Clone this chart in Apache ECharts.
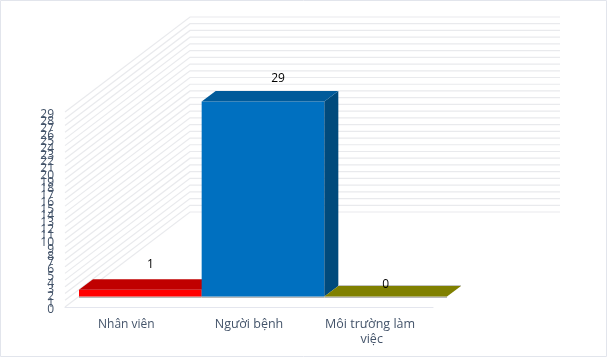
<!DOCTYPE html>
<html>
<head>
<meta charset="utf-8">
<style>html,body{margin:0;padding:0;background:#fff}#chart{width:607px;height:357px}</style>
<script src="https://cdn.jsdelivr.net/npm/echarts@6/dist/echarts.min.js"></script>
</head>
<body>
<div id="chart"></div>
<script>
const categories = ['Nhân viên', 'Người bệnh', 'Môi trường làm việc'];
const values = [1, 29, 0];
const yTicks = [0, 1, 2, 3, 4, 5, 6, 7, 8, 9, 10, 11, 12, 13, 14, 15, 16, 17, 18, 19, 20, 21, 22, 23, 24, 25, 26, 27, 28, 29];

const faces = [
  { front: '#ff0000', top: '#c00000', side: '#a00000' },
  { front: '#0070c0', top: '#005a9a', side: '#004a7c' },
  { front: '#808000', top: '#808000', side: '#666600' }
];
const labelShift = [[10, -25], [15, -23], [0, -12]];
const categoryFontSize = [12, 12.5, 12.5];
const textFont = '"Open Sans", sans-serif';

// depth of the floor, and of one bar
const wallDx = 125, wallDy = -95;
const barDx = 14, barDy = -10.5;

function poly(points, fill) {
  return { type: 'polygon', shape: { points: points }, style: { fill: fill } };
}

// wall line plus its tick label: the axis's own labels drop 1 and 28 as overlapping
function renderWall(params, api) {
  const box = params.coordSys;
  const tick = api.value(1);
  const y = api.coord([0, tick])[1];
  const x0 = box.x, x1 = box.x + wallDx, x2 = box.x + box.width + wallDx + 2;
  return {
    type: 'group',
    children: [{
      type: 'polyline',
      shape: { points: [[x0, y], [x1, y + wallDy], [x2, y + wallDy]] },
      style: { stroke: '#e9eaed', lineWidth: 1.2, fill: null }
    }, {
      type: 'text',
      style: {
        x: x0 - 11,
        y: y + 3,
        text: String(tick),
        fill: '#44546a',
        font: '12px ' + textFont,
        align: 'right',
        verticalAlign: 'middle'
      }
    }]
  };
}

function renderBar(params, api) {
  const i = api.value(0);
  const v = api.value(1);
  const band = api.size([1, 0])[0];
  const c = api.coord([i, v]);
  const base = api.coord([i, 0])[1] + barDy;
  const top = c[1] + barDy;
  const l = c[0] - band / 2 + barDx;
  const r = l + band;
  const f = faces[i];
  const kids = [];
  kids.push({ type: 'rect', shape: { x: l, y: base, width: band, height: 1.5 }, style: { fill: '#b8b8b8' } });
  if (v > 0) {
    kids.push({ type: 'rect', shape: { x: l, y: top, width: band, height: base - top }, style: { fill: f.front } });
    kids.push(poly([[r, top], [r + barDx, top + barDy], [r + barDx, base + barDy], [r, base]], f.side));
  } else {
    kids.push({ type: 'rect', shape: { x: l + barDx, y: top + barDy - 1, width: band, height: 1 }, style: { fill: '#c4c4c4' } });
  }
  kids.push(poly([[l, top], [l + barDx, top + barDy], [r + barDx, top + barDy], [r, top]], f.top));
  kids.push({
    type: 'text',
    style: {
      x: (l + r) / 2 + labelShift[i][0],
      y: top + labelShift[i][1],
      text: String(v),
      fill: '#000',
      font: '12px ' + textFont,
      align: 'center',
      verticalAlign: 'middle'
    }
  });
  return { type: 'group', children: kids };
}

const chart = echarts.init(document.getElementById('chart'), null, { renderer: 'canvas' });
chart.setOption({
  animation: false,
  backgroundColor: '#fff',
  graphic: [{
    type: 'rect',
    silent: true,
    shape: { x: 0.5, y: 0.5, width: 606, height: 356 },
    style: { fill: 'none', stroke: '#e2e5ec', lineWidth: 1 }
  }],
  grid: { left: 65, top: 112, width: 368, height: 195 },
  xAxis: {
    type: 'category',
    data: categories.map((name, i) => ({ value: name, textStyle: { fontSize: categoryFontSize[i] } })),
    axisTick: { show: false },
    axisLine: { lineStyle: { color: '#e4e6ee', width: 1.2 } },
    axisLabel: { color: '#44546a', fontFamily: textFont, fontSize: 12.5, margin: 10, width: 122, overflow: 'break', interval: 0, lineHeight: 15 }
  },
  yAxis: {
    type: 'value',
    min: 0,
    max: 29,
    interval: 1,
    splitLine: { show: false },
    axisLine: { show: false },
    axisTick: { show: false },
    axisLabel: { show: false }
  },
  series: [
    {
      type: 'custom',
      clip: false,
      silent: true,
      z: 1,
      renderItem: renderWall,
      encode: { x: 0, y: 1 },
      data: yTicks.map(t => [0, t])
    },
    {
      type: 'custom',
      clip: false,
      silent: true,
      z: 2,
      renderItem: renderBar,
      encode: { x: 0, y: 1 },
      data: values.map((v, i) => [i, v])
    }
  ]
});
</script>
</body>
</html>
